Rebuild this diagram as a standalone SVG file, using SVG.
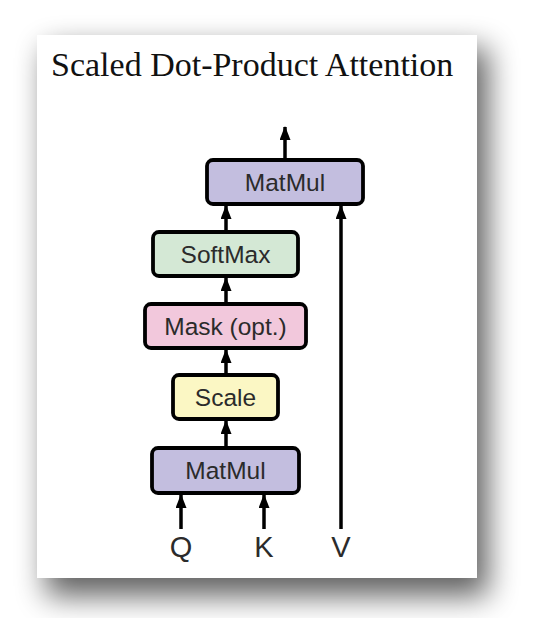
<svg xmlns="http://www.w3.org/2000/svg" width="536" height="618" viewBox="0 0 536 618">
<defs>
<filter id="shadow" x="-20%" y="-20%" width="140%" height="140%">
<feGaussianBlur stdDeviation="15"/>
</filter>
<marker id="arrow" viewBox="0 0 14 11" refX="13" refY="5.5" markerWidth="14" markerHeight="11" markerUnits="userSpaceOnUse" orient="auto">
<path d="M0,0 L14,5.5 L0,11 Z" fill="#000"/>
</marker>
</defs>
<style>
.box{stroke:#000;stroke-width:3.8}
.lbl{font-family:"Liberation Sans",Arial,sans-serif;font-size:24.5px;fill:#2b2b2b;text-anchor:middle}
.io{font-family:"Liberation Sans",Arial,sans-serif;font-size:29px;fill:#2b2b2b;text-anchor:middle}
.conn line{stroke:#000;stroke-width:3.5;fill:none}
</style>
<rect x="0" y="0" width="536" height="618" fill="#fff"/>
<rect x="46" y="48" width="442" height="548" fill="#000" opacity="0.62" filter="url(#shadow)"/>
<rect id="card" x="37" y="35" width="440" height="543" fill="#fff"/>
<text id="title" x="51" y="76" font-family="'Liberation Serif','Times New Roman',serif" font-size="34" fill="#111">Scaled Dot-Product Attention</text>

<g id="matmul-top"><rect class="box" x="207" y="160" width="156" height="44" rx="6" fill="#c3bedf"/><text class="lbl" x="285" y="190.5">MatMul</text></g>
<g id="softmax"><rect class="box" x="153" y="232" width="145" height="44" rx="6" fill="#d4e8d5"/><text class="lbl" x="225.5" y="262.5">SoftMax</text></g>
<g id="mask"><rect class="box" x="145" y="304" width="161" height="44" rx="6" fill="#f2c8dc"/><text class="lbl" x="225.5" y="334.5">Mask (opt.)</text></g>
<g id="scale"><rect class="box" x="173" y="375" width="105" height="44" rx="6" fill="#fbf7c4"/><text class="lbl" x="225.5" y="405.5">Scale</text></g>
<g id="matmul-bottom"><rect class="box" x="152" y="448" width="147" height="45" rx="6" fill="#c3bedf"/><text class="lbl" x="225.5" y="479">MatMul</text></g>
<g id="q"><text class="io" x="181" y="557">Q</text></g>
<g id="k"><text class="io" x="264" y="557">K</text></g>
<g id="v"><text class="io" x="341" y="557">V</text></g>

<g class="conn" id="connectors">
<line x1="285" y1="158" x2="285" y2="127" marker-end="url(#arrow)"/>
<line x1="226" y1="230" x2="226" y2="206" marker-end="url(#arrow)"/>
<line x1="226" y1="302" x2="226" y2="278" marker-end="url(#arrow)"/>
<line x1="226" y1="373" x2="226" y2="350" marker-end="url(#arrow)"/>
<line x1="226" y1="446" x2="226" y2="421" marker-end="url(#arrow)"/>
<line x1="181" y1="529" x2="181" y2="495" marker-end="url(#arrow)"/>
<line x1="264" y1="529" x2="264" y2="495" marker-end="url(#arrow)"/>
<line x1="341" y1="529" x2="341" y2="206" marker-end="url(#arrow)"/>
</g>
</svg>
